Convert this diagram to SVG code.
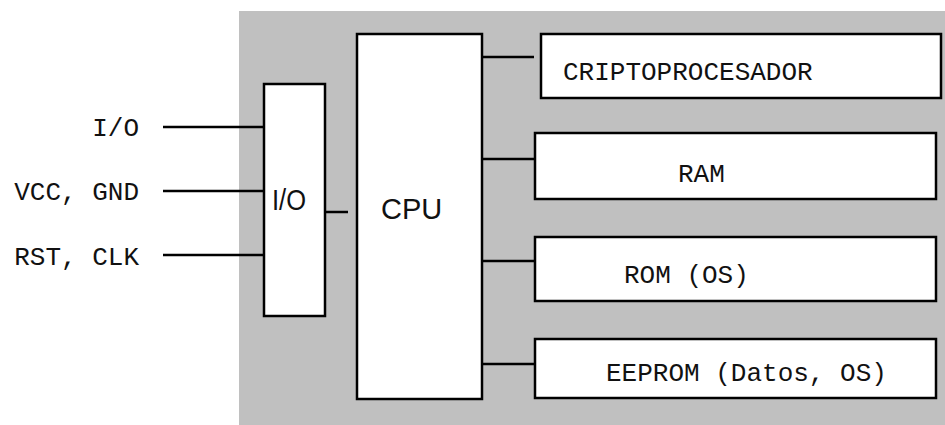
<svg xmlns="http://www.w3.org/2000/svg" width="945" height="425" viewBox="0 0 945 425">
<style>
.box{fill:#fff;stroke:#000;stroke-width:2.5}
.ln{stroke:#000;stroke-width:2.5;fill:none}
.m{font-family:"Liberation Mono","DejaVu Sans Mono",monospace;font-size:26px;fill:#111}
.s{font-family:"Liberation Sans",Arial,sans-serif;font-size:29px;fill:#111}
</style>
<rect x="0" y="0" width="945" height="425" fill="#fff"/>
<rect id="chip" x="239" y="11" width="706" height="414" fill="#c0c0c0"/>
<g id="connectors">
<line class="ln" x1="163" y1="127" x2="264" y2="127"/>
<line class="ln" x1="163" y1="191" x2="264" y2="191"/>
<line class="ln" x1="163" y1="255" x2="264" y2="255"/>
<line class="ln" x1="325" y1="212" x2="348" y2="212"/>
<line class="ln" x1="482" y1="57" x2="534" y2="57"/>
<line class="ln" x1="482" y1="159" x2="535" y2="159"/>
<line class="ln" x1="482" y1="261" x2="535" y2="261"/>
<line class="ln" x1="482" y1="364" x2="535" y2="364"/>
</g>
<g id="pin-labels">
<text class="m" x="139" y="136" text-anchor="end">I/O</text>
<text class="m" x="139" y="200" text-anchor="end">VCC, GND</text>
<text class="m" x="139" y="265" text-anchor="end">RST, CLK</text>
</g>
<g id="io">
<rect class="box" x="264" y="84" width="61" height="232"/>
<text class="s" x="272" y="210" textLength="34" lengthAdjust="spacingAndGlyphs">I/O</text>
</g>
<g id="cpu">
<rect class="box" x="357" y="34" width="125" height="365"/>
<text class="s" x="381" y="219">CPU</text>
</g>
<g id="cripto">
<rect class="box" x="541" y="34" width="400" height="64"/>
<text class="m" x="563" y="80">CRIPTOPROCESADOR</text>
</g>
<g id="ram">
<rect class="box" x="535" y="133" width="401" height="66"/>
<text class="m" x="678" y="182">RAM</text>
</g>
<g id="rom">
<rect class="box" x="535" y="237" width="401" height="64"/>
<text class="m" x="624" y="283">ROM (OS)</text>
</g>
<g id="eeprom">
<rect class="box" x="535" y="339" width="401" height="59"/>
<text class="m" x="606" y="381">EEPROM (Datos, OS)</text>
</g>
</svg>
